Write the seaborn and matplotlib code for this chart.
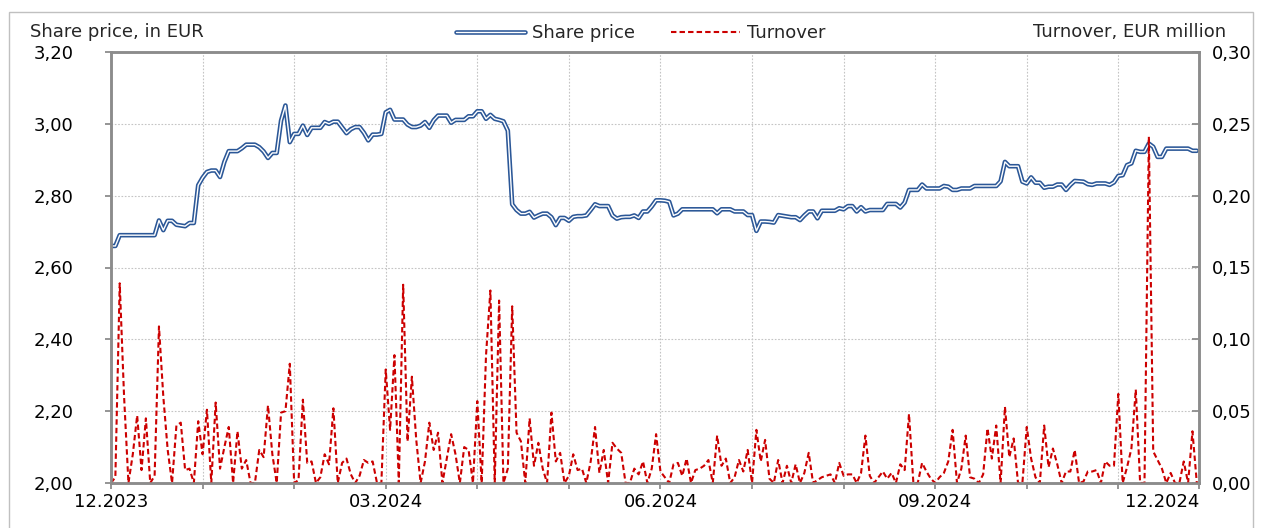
import numpy as np
import pandas as pd
import matplotlib
matplotlib.use("Agg")
import matplotlib.pyplot as plt
import matplotlib.patheffects as pe
from matplotlib.lines import Line2D
from matplotlib.patches import Rectangle
from matplotlib.ticker import FuncFormatter, FixedLocator, MultipleLocator
import seaborn as sns

# ===============================
# DATA (one value per trading day, Dec 2023 - Dec 2024)
# ===============================
share_price = [
    # 12.2023
    2.660, 2.660, 2.690, 2.690, 2.690, 2.690, 2.690, 2.690, 2.690, 2.690, 2.690,
    2.731, 2.704, 2.730, 2.730, 2.719, 2.717, 2.715, 2.724, 2.724, 2.829,
    # 01.2024
    2.850, 2.866, 2.870, 2.870, 2.852, 2.894, 2.924, 2.924, 2.924, 2.932, 2.942,
    2.942, 2.942, 2.935, 2.923, 2.905, 2.919, 2.919, 3.009, 3.051, 2.949,
    # 02.2024
    2.972, 2.972, 2.995, 2.969, 2.989, 2.989, 2.989, 3.005, 3.000, 3.006, 3.006,
    2.990, 2.974, 2.985, 2.991, 2.991, 2.975, 2.954, 2.970, 2.970, 2.972,
    # 03.2024
    3.032, 3.039, 3.012, 3.012, 3.012, 2.998, 2.991, 2.991, 2.995, 3.005, 2.989,
    3.010, 3.023, 3.023, 3.023, 3.003, 3.011, 3.011, 3.011, 3.021, 3.021,
    # 04.2024
    3.035, 3.035, 3.014, 3.025, 3.014, 3.011, 3.007, 2.981, 2.776, 2.760, 2.750,
    2.750, 2.755, 2.739, 2.745, 2.750, 2.750, 2.740, 2.718, 2.738, 2.738,
    # 05.2024
    2.730, 2.741, 2.743, 2.743, 2.745, 2.760, 2.776, 2.771, 2.771, 2.771, 2.745,
    2.736, 2.740, 2.741, 2.741, 2.745, 2.738, 2.756, 2.756, 2.770, 2.787,
    # 06.2024
    2.787, 2.786, 2.783, 2.745, 2.750, 2.762, 2.762, 2.762, 2.762, 2.762, 2.762,
    2.762, 2.762, 2.751, 2.762, 2.762, 2.762, 2.756, 2.756, 2.756, 2.746,
    # 07.2024
    2.746, 2.702, 2.728, 2.728, 2.727, 2.725, 2.746, 2.744, 2.742, 2.740, 2.740,
    2.732, 2.745, 2.756, 2.756, 2.737, 2.758, 2.758, 2.758, 2.758, 2.765,
    # 08.2024
    2.762, 2.771, 2.771, 2.756, 2.768, 2.756, 2.760, 2.760, 2.760, 2.760, 2.777,
    2.777, 2.777, 2.767, 2.781, 2.816, 2.816, 2.816, 2.831, 2.820, 2.820,
    # 09.2024
    2.820, 2.820, 2.827, 2.825, 2.816, 2.816, 2.820, 2.820, 2.820, 2.827, 2.827,
    2.827, 2.827, 2.827, 2.827, 2.840, 2.894, 2.882, 2.882, 2.882, 2.839,
    # 10.2024
    2.834, 2.851, 2.836, 2.836, 2.822, 2.825, 2.825, 2.831, 2.831, 2.816, 2.830,
    2.841, 2.840, 2.839, 2.832, 2.830, 2.834, 2.834, 2.834, 2.830, 2.837,
    # 11.2024
    2.855, 2.857, 2.885, 2.890, 2.925, 2.922, 2.922, 2.945, 2.936, 2.908, 2.908,
    2.931, 2.931, 2.931, 2.931, 2.931, 2.931, 2.925, 2.925,
]

turnover = [
    # 12.2023
    0.000, 0.004, 0.139, 0.060, 0.000, 0.020, 0.047, 0.009, 0.045, 0.000, 0.005,
    0.109, 0.060, 0.023, 0.000, 0.040, 0.042, 0.009, 0.010, 0.000, 0.043,
    # 01.2024
    0.020, 0.051, 0.000, 0.056, 0.010, 0.025, 0.039, 0.000, 0.036, 0.010, 0.016,
    0.000, 0.000, 0.023, 0.018, 0.054, 0.020, 0.000, 0.049, 0.050, 0.083,
    # 02.2024
    0.000, 0.002, 0.058, 0.014, 0.015, 0.000, 0.004, 0.020, 0.013, 0.052, 0.000,
    0.014, 0.017, 0.006, 0.000, 0.005, 0.016, 0.014, 0.015, 0.000, 0.000,
    # 03.2024
    0.079, 0.037, 0.089, 0.000, 0.138, 0.029, 0.074, 0.030, 0.000, 0.015, 0.042,
    0.023, 0.035, 0.000, 0.017, 0.034, 0.020, 0.000, 0.025, 0.023, 0.000,
    # 04.2024
    0.057, 0.000, 0.089, 0.134, 0.000, 0.127, 0.000, 0.010, 0.123, 0.035, 0.029,
    0.000, 0.045, 0.012, 0.028, 0.010, 0.000, 0.049, 0.015, 0.021, 0.000,
    # 05.2024
    0.005, 0.020, 0.009, 0.010, 0.000, 0.015, 0.039, 0.007, 0.023, 0.000, 0.028,
    0.024, 0.021, 0.000, 0.000, 0.010, 0.006, 0.015, 0.000, 0.010, 0.034,
    # 06.2024
    0.008, 0.004, 0.000, 0.013, 0.014, 0.005, 0.017, 0.000, 0.009, 0.010, 0.012,
    0.016, 0.000, 0.033, 0.012, 0.017, 0.000, 0.004, 0.016, 0.008, 0.023,
    # 07.2024
    0.000, 0.037, 0.015, 0.030, 0.003, 0.000, 0.016, 0.000, 0.012, 0.000, 0.013,
    0.000, 0.007, 0.021, 0.000, 0.002, 0.004, 0.005, 0.006, 0.000, 0.014,
    # 08.2024
    0.005, 0.006, 0.006, 0.000, 0.007, 0.033, 0.005, 0.000, 0.004, 0.008, 0.003,
    0.007, 0.000, 0.013, 0.009, 0.048, 0.000, 0.000, 0.014, 0.008, 0.003,
    # 09.2024
    0.000, 0.004, 0.007, 0.015, 0.037, 0.000, 0.010, 0.033, 0.004, 0.003, 0.000,
    0.006, 0.038, 0.017, 0.040, 0.000, 0.053, 0.018, 0.031, 0.000, 0.000,
    # 10.2024
    0.039, 0.017, 0.004, 0.000, 0.040, 0.011, 0.024, 0.013, 0.000, 0.008, 0.008,
    0.023, 0.000, 0.001, 0.008, 0.008, 0.009, 0.000, 0.015, 0.012, 0.012,
    # 11.2024
    0.062, 0.000, 0.011, 0.024, 0.065, 0.000, 0.000, 0.241, 0.022, 0.016, 0.010,
    0.000, 0.007, 0.000, 0.000, 0.015, 0.000, 0.036, 0.000,
]

# first trading day of each month (index into the daily series)
month_starts = [0, 21, 42, 63, 84, 105, 126, 147, 168, 189, 210, 231]
label_positions = [0, 63, 126, 189]
label_texts = ['12.2023', '03.2024', '06.2024', '09.2024', '12.2024']

df = pd.DataFrame({
    'day': np.arange(len(share_price)),
    'price': share_price,
    'turnover': turnover,
})

# ===============================
# STYLE
# ===============================
sns.set_theme(style='white')
plt.rcParams['font.family'] = ['DejaVu Sans']
plt.rcParams['font.size'] = 13

BLUE = '#2b5797'
RED = '#cc0000'
SPINE = '#8c8c8c'
GRID = '#c4c4c4'

fig = plt.figure(figsize=(12.64, 5.28), dpi=100)
ax = fig.add_axes([111 / 1264, 1 - 483 / 528, 1088 / 1264, 431 / 528])

# share price: double line (blue outline, white core)
price_fx = [pe.Stroke(linewidth=3.3, foreground=BLUE), pe.Normal()]
sns.lineplot(data=df, x='day', y='price', ax=ax, color='white', lw=1.0)
ax.lines[-1].set_path_effects(price_fx)

ax2 = ax.twinx()
sns.lineplot(data=df, x='day', y='turnover', ax=ax2, color=RED, lw=1.5)
ax2.lines[-1].set_dashes([2.6, 1.5])

xmax = len(share_price) - 0.5
ax.set_xlim(0, xmax)
ax.set_ylim(2.0, 3.2)
ax2.set_ylim(0, 0.30)

ax.yaxis.set_major_locator(MultipleLocator(0.2))
ax2.yaxis.set_major_locator(MultipleLocator(0.05))
comma = FuncFormatter(lambda v, p: f"{v:.2f}".replace('.', ','))
ax.yaxis.set_major_formatter(comma)
ax2.yaxis.set_major_formatter(comma)

ax.xaxis.set_major_locator(FixedLocator(label_positions + [xmax]))
ax.xaxis.set_minor_locator(FixedLocator(month_starts))
ax.set_xticklabels(label_texts)
ax.get_xticklabels()[-1].set_horizontalalignment('right')

ax.set_xlabel('')
ax.set_ylabel('')
ax2.set_ylabel('')

ax.grid(True, which='both', axis='both', color=GRID, linestyle=(0, (1.5, 1.5)), lw=0.8)
ax.set_axisbelow(True)

for a in (ax, ax2):
    for s in a.spines.values():
        s.set_color(SPINE)
        s.set_linewidth(1.8)

ax.tick_params(axis='y', left=True, direction='out', length=4, width=1.3,
               color=SPINE, pad=23, labelsize=13, labelcolor='black')
ax.tick_params(axis='x', which='both', bottom=True, direction='out', length=4,
               width=1.3, color=SPINE, pad=3, labelsize=13, labelcolor='black')
ax2.tick_params(axis='y', right=True, direction='in', length=5, width=1.3,
                color=SPINE, pad=9, labelsize=13, labelcolor='black')

# axis titles
fig.text(30 / 1264, 1 - 32 / 528, 'Share price, in EUR', ha='left', va='center', fontsize=13)
fig.text(1226 / 1264, 1 - 32 / 528, 'Turnover, EUR million', ha='right', va='center', fontsize=13)

# legend
handles = [
    Line2D([], [], color='white', lw=1.0, path_effects=price_fx),
    Line2D([], [], color=RED, lw=1.5, dashes=[2.6, 1.5]),
]
fig.legend(handles, ['Share price', 'Turnover'], loc='center',
           bbox_to_anchor=(641 / 1264, 1 - 33 / 528), ncol=2, frameon=False,
           fontsize=13, handlelength=3.8, handletextpad=0.4, columnspacing=2.0)

# outer frame
fig.add_artist(Rectangle((9 / 1264, -0.05), 1244 / 1264, 1.05 - 12 / 528,
                         transform=fig.transFigure, fill=False,
                         edgecolor='#c0c0c0', lw=1))

fig.savefig('out.png', dpi=100)
